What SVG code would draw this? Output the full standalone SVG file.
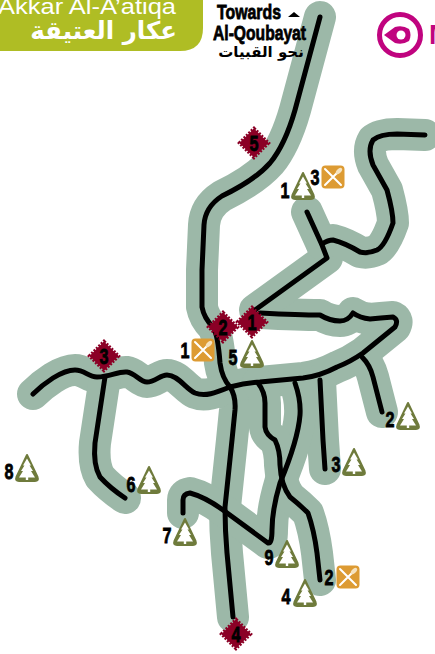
<svg xmlns="http://www.w3.org/2000/svg" width="435" height="654" viewBox="0 0 435 654">
<style>
.road{fill:none;stroke-linecap:round;stroke-linejoin:round}
.casing{stroke:#9cb8a8;stroke-width:32}
.line{stroke:#000;stroke-width:5}
.lab{font-family:"Liberation Sans",sans-serif;font-weight:700;font-size:22px;fill:#000;stroke:#000;stroke-width:.8;text-anchor:middle}
.hd{font-family:"Liberation Sans",sans-serif;fill:#fff;text-anchor:end}
.tw{font-family:"Liberation Sans",sans-serif;font-weight:700;font-size:21px;fill:#000;stroke:#000;stroke-width:.8}
</style>
<defs>
<g id="tree">
<path d="M0 -13 L10.500 9 Q12 13 8 13 L-8 13 Q-12 13 -10.500 9 Z" fill="#6f7b3c" stroke="#6f7b3c" stroke-width="2" stroke-linejoin="round"/>
<path d="M0 -9.500 L4 -2.500 L2.500 -2.500 L6 3 L4 3 L8 9.500 L1.200 9.500 L1.200 12 L-1.200 12 L-1.200 9.500 L-8 9.500 L-4 3 L-6 3 L-2.500 -2.500 L-4 -2.500 Z" fill="#fff"/>
</g>
<g id="dia">
<path d="M0 -14.500 L14.500 0 L0 14.500 L-14.500 0 Z" fill="#8b0026" stroke="#8b0026" stroke-width="3.400" stroke-dasharray="2 1.400"/>
</g>
<g id="food">
<rect x="-11.500" y="-11.500" width="23" height="23" rx="4" fill="#dd9b33"/>
<path d="M-8 -8 L8 8 M7 -7 L-8 8" stroke="#fff" stroke-width="2" stroke-linecap="round"/>
<ellipse cx="6" cy="-6" rx="2.200" ry="3.800" transform="rotate(45 6 -6)" fill="#f6e3bf"/>
</g>
<path id="r1" d="M320 17 L295 110 Q285 145 270 163 Q255 180 222 196 Q205 207 204 225 L202 270 L202 307 Q204 318 213 327 Q218 335 220 363 Q222 378 230 387 Q236 396 235 410 L232 440 L225 507 Q225 530 227 553 L233 617"/>
<path id="r2" d="M33 394 Q42 385 53 378 Q66 370 75 370 C85 370 88 377 97 377 C110 377 118 371 127 372 C135 373 140 382 147 382 C155 382 160 375 167 375 C178 375 186 389 195 393 C205 397 215 393 230 387 Q245 383 260 382 L303 378 Q320 376 337 367 Q350 362 363 353 L395 327 Q399 320 393 317 Q380 318 370 319 Q360 318 353 313 Q348 321 340 321 Q330 321 320 315 Q300 315 260 313"/>
<path id="r3" d="M255 310 L327 258 L322 245 L307 212"/>
<path id="r4" d="M322 244 Q328 240 333 240 Q345 243 360 252 Q368 254 377 250 Q385 246 393 223 Q393 212 387 190 L373 165 Q367 150 373 140 Q380 134 397 134 L425 135"/>
<path id="r5" d="M362 357 Q370 365 373 377 L382 412"/>
<path id="r6" d="M320 380 L323 440 L325 469"/>
<path id="r7" d="M295 383 Q301 400 300 415 Q298 440 280 483 Q272 510 272 530 Q272 544 268 543 L223 510 Q205 497 190 493 Q183 494 183 500 L183 513"/>
<path id="r8" d="M258 383 Q265 392 265 403 L265 427 Q266 435 275 440 Q280 450 280 465 Q281 485 290 497 Q300 505 308 513 Q314 530 317 553 L320 580"/>
<path id="r9" d="M105 377 L95 443 Q93 465 100 477 Q110 488 125 498"/>
</defs>

<g id="connectors">
<g class="road casing">
<use href="#r1"/><use href="#r2"/><use href="#r3"/><use href="#r4"/><use href="#r5"/><use href="#r6"/><use href="#r7"/><use href="#r8"/><use href="#r9"/>
</g>
<g class="road line">
<use href="#r1"/><use href="#r2"/><use href="#r3"/><use href="#r4"/><use href="#r5"/><use href="#r6"/><use href="#r7"/><use href="#r8"/><use href="#r9"/>
</g>
</g>

<g id="header">
<path d="M0 -2 H203 V28 Q203 51 180 51 H0 Z" fill="#afbd24"/>
<text class="hd" x="176" y="14" font-size="22" textLength="178" lengthAdjust="spacingAndGlyphs">Akkar Al-A’atiqa</text>
<text class="hd" x="177" y="39" font-size="24.500" font-weight="700" style="font-family:'DejaVu Sans',sans-serif">عكار العتيقة</text>
</g>

<g id="towards">
<text class="tw" x="217" y="19" textLength="64" lengthAdjust="spacingAndGlyphs">Towards</text>
<path d="M288 17 L294 12 L300 17 Z" fill="#000"/>
<text class="tw" x="213" y="40" textLength="93" lengthAdjust="spacingAndGlyphs">Al-Qoubayat</text>
<text x="261" y="57" font-size="15" font-weight="700" text-anchor="middle" fill="#000" style="font-family:'DejaVu Sans',sans-serif">نحو القبيات</text>
</g>

<g id="logo">
<circle cx="400" cy="35" r="20.500" fill="none" stroke="#c0047f" stroke-width="5"/>
<path d="M384 35 L395 27 Q403 25 409 29 Q412 35 409 41 Q403 45 395 43 Z" fill="#c0047f"/>
<circle cx="401" cy="35" r="4.500" fill="#fff"/>
<text x="429" y="44" font-size="28" font-weight="700" fill="#c0047f" style="font-family:'Liberation Sans',sans-serif">M</text>
</g>

<g id="poi-5"><use href="#dia" x="254" y="143"/><text class="lab" x="254" y="151" textLength="9" lengthAdjust="spacingAndGlyphs">5</text></g>
<g id="poi-2"><use href="#dia" x="223" y="327"/><text class="lab" x="223" y="335" textLength="9" lengthAdjust="spacingAndGlyphs">2</text></g>
<g id="poi-1"><use href="#dia" x="252" y="322"/><text class="lab" x="252" y="330" textLength="9" lengthAdjust="spacingAndGlyphs">1</text></g>
<g id="poi-3"><use href="#dia" x="104" y="356"/><text class="lab" x="104" y="364" textLength="9" lengthAdjust="spacingAndGlyphs">3</text></g>
<g id="poi-4"><use href="#dia" x="236" y="634"/><text class="lab" x="236" y="642" textLength="9" lengthAdjust="spacingAndGlyphs">4</text></g>

<g id="tree-1"><use href="#tree" x="303" y="186"/><text class="lab" x="285" y="198" textLength="9" lengthAdjust="spacingAndGlyphs">1</text></g>
<g id="tree-5"><use href="#tree" x="252" y="354"/><text class="lab" x="233" y="365" textLength="9" lengthAdjust="spacingAndGlyphs">5</text></g>
<g id="tree-2"><use href="#tree" x="408" y="416"/><text class="lab" x="390" y="427" textLength="9" lengthAdjust="spacingAndGlyphs">2</text></g>
<g id="tree-8"><use href="#tree" x="27" y="468"/><text class="lab" x="9" y="479" textLength="9" lengthAdjust="spacingAndGlyphs">8</text></g>
<g id="tree-6"><use href="#tree" x="149" y="480"/><text class="lab" x="131" y="492" textLength="9" lengthAdjust="spacingAndGlyphs">6</text></g>
<g id="tree-7"><use href="#tree" x="185" y="532"/><text class="lab" x="167" y="543" textLength="9" lengthAdjust="spacingAndGlyphs">7</text></g>
<g id="tree-3"><use href="#tree" x="354" y="462"/><text class="lab" x="336" y="472" textLength="9" lengthAdjust="spacingAndGlyphs">3</text></g>
<g id="tree-9"><use href="#tree" x="287" y="554"/><text class="lab" x="269" y="565" textLength="9" lengthAdjust="spacingAndGlyphs">9</text></g>
<g id="tree-4"><use href="#tree" x="305" y="593"/><text class="lab" x="286" y="604" textLength="9" lengthAdjust="spacingAndGlyphs">4</text></g>

<g id="food-3"><use href="#food" x="333" y="177"/><text class="lab" x="315" y="185" textLength="9" lengthAdjust="spacingAndGlyphs">3</text></g>
<g id="food-1"><use href="#food" x="203" y="350"/><text class="lab" x="185" y="358" textLength="9" lengthAdjust="spacingAndGlyphs">1</text></g>
<g id="food-2"><use href="#food" x="348" y="577"/><text class="lab" x="329" y="585" textLength="9" lengthAdjust="spacingAndGlyphs">2</text></g>
</svg>
